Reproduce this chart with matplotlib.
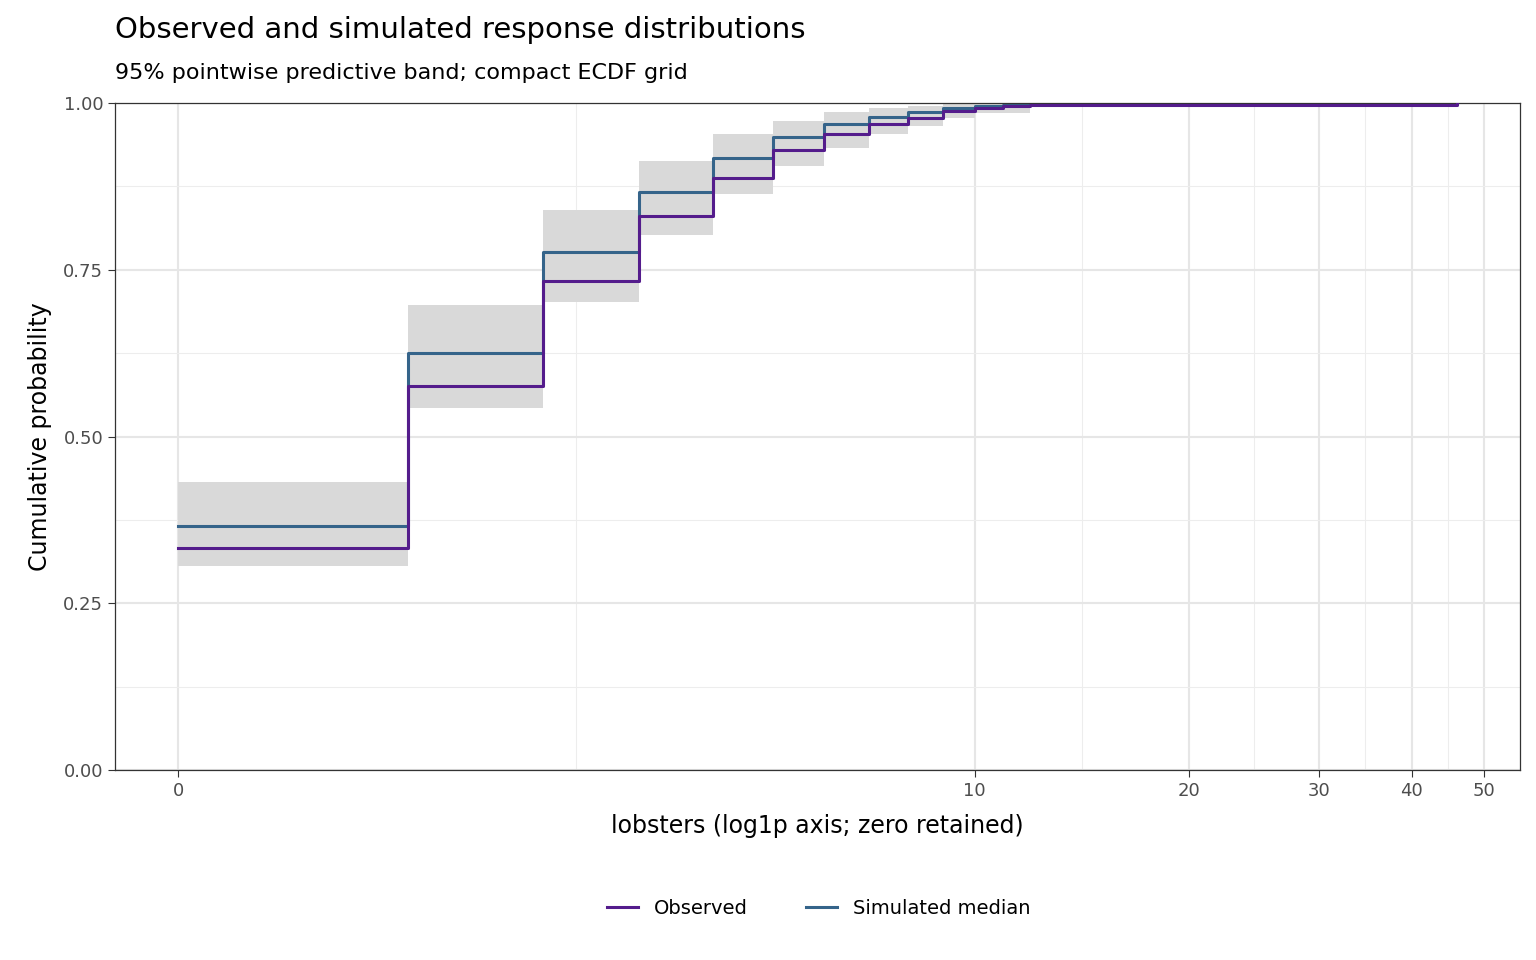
import numpy as np
import matplotlib
matplotlib.use("Agg")
import matplotlib.pyplot as plt
from matplotlib.lines import Line2D

x_vals = [0, 1, 2, 3, 4, 5, 6, 7, 8, 9, 10, 11, 12, 46]
observed = [0.333, 0.575, 0.733, 0.830, 0.887, 0.930, 0.953, 0.968, 0.978, 0.988, 0.993, 0.995, 0.997, 1.0]
simulated = [0.366, 0.625, 0.776, 0.866, 0.918, 0.949, 0.968, 0.979, 0.987, 0.992, 0.995, 0.997, 0.998, 1.0]
band_lo = [0.306, 0.542, 0.701, 0.802, 0.863, 0.905, 0.933, 0.953, 0.966, 0.977, 0.985, 0.985, 0.995, 0.995]
band_hi = [0.432, 0.697, 0.840, 0.913, 0.953, 0.973, 0.986, 0.992, 0.996, 0.998, 0.999, 1.0, 1.0, 1.0]
x_ticks = [0, 10, 20, 30, 40, 50]

t = np.log1p(x_vals)
fig = plt.figure(figsize=(15.36, 9.6), dpi=100)
ax = fig.add_axes([115/1536, 1-770/960, 1405/1536, 667/960])
ax.fill_between(t, band_lo, band_hi, step='post', color='#d9d9d9', lw=0, zorder=1)
ax.step(t, simulated, where='post', color='#35648a', lw=2.2, zorder=2)
ax.step(t, observed, where='post', color='#541c8c', lw=2.2, zorder=3)

tt = np.log1p(x_ticks)
ax.set_xticks(tt)
ax.set_xticklabels([str(v) for v in x_ticks])
minor = [(tt[i]+tt[i+1])/2 for i in range(len(tt)-1)]
ax.set_xticks(minor, minor=True)
ax.set_yticks([0, 0.25, 0.5, 0.75, 1.0])
ax.set_yticklabels(['0.00', '0.25', '0.50', '0.75', '1.00'])
ax.set_yticks([0.125, 0.375, 0.625, 0.875], minor=True)
ax.set_xlim(-0.19, 4.04)
ax.set_ylim(0, 1)
ax.grid(True, which='major', color='#e6e6e6', lw=1.5)
ax.grid(True, which='minor', color='#ededed', lw=0.8)
ax.set_axisbelow(True)
ax.tick_params(which='minor', length=0)
ax.tick_params(which='major', labelsize=13, labelcolor='#4d4d4d', color='#333333', length=5)
for s in ax.spines.values():
    s.set_color('#333333'); s.set_linewidth(0.9)
ax.set_xlabel('lobsters (log1p axis; zero retained)', fontsize=17, labelpad=10)
ax.set_ylabel('Cumulative probability', fontsize=17, labelpad=8)
fig.text(115/1536, 1-30/960, 'Observed and simulated response distributions', fontsize=21, va='center')
fig.text(115/1536, 1-73/960, '95% pointwise predictive band; compact ECDF grid', fontsize=16, va='center')

h = [Line2D([], [], color='#541c8c', lw=2.2), Line2D([], [], color='#35648a', lw=2.2)]
fig.legend(h, ['Observed', 'Simulated median'], loc='center', bbox_to_anchor=(0.533, 1-908/960),
           ncol=2, frameon=False, fontsize=14, handlelength=1.6, columnspacing=3.0)
fig.savefig('out.png', dpi=100)
